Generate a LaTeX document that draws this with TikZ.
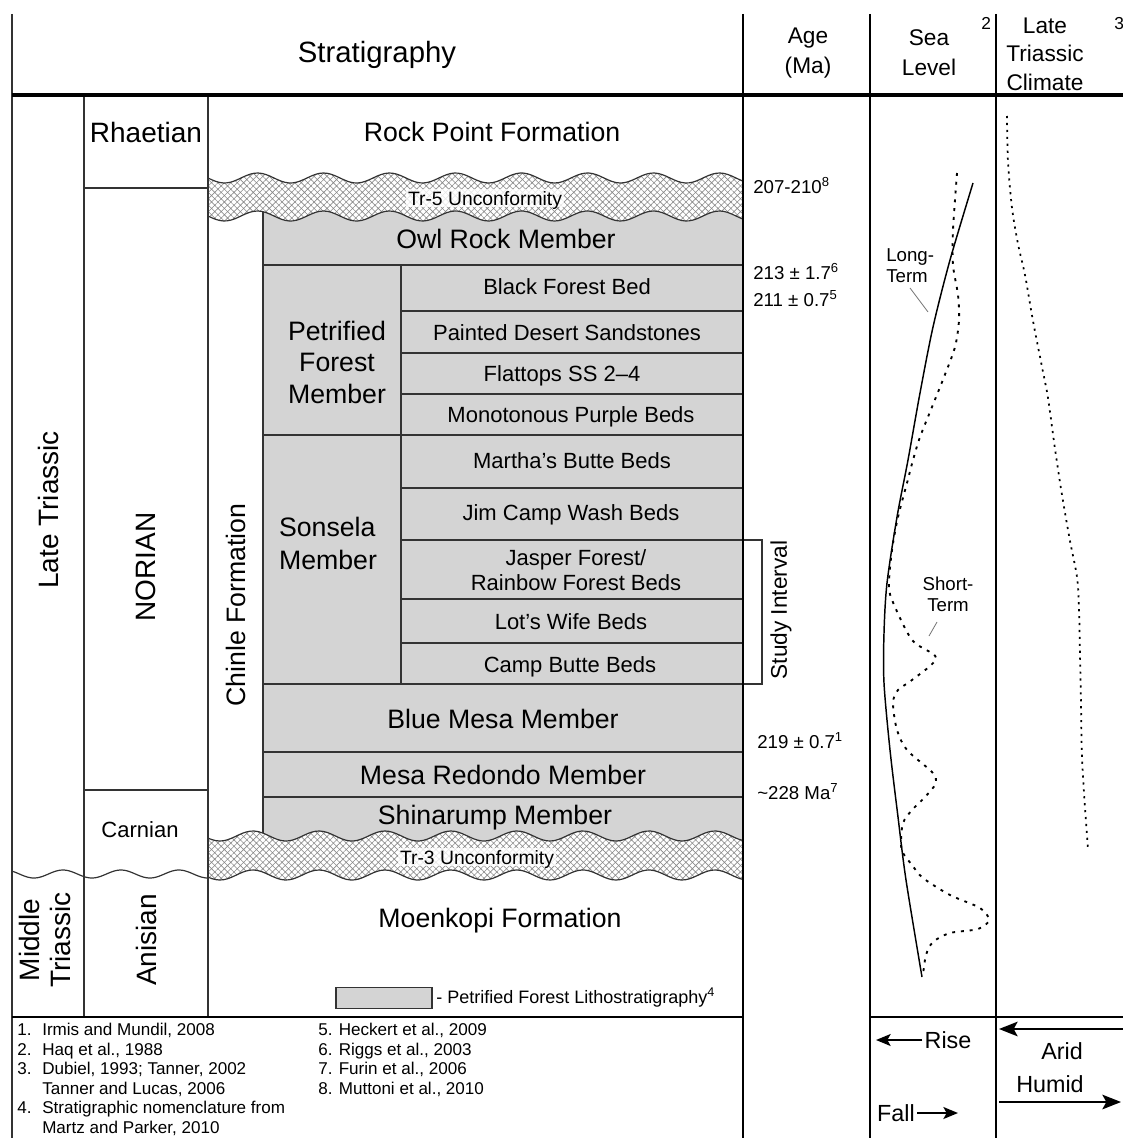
\documentclass[tikz,border=0pt]{standalone}
\usepackage{fontspec}
\setmainfont{Liberation Sans}
\usetikzlibrary{patterns.meta,arrows.meta}
\definecolor{lith}{HTML}{D4D4D4}
\definecolor{ln}{HTML}{333333}
\definecolor{hatchc}{HTML}{8A8A8A}
\begin{document}
\begin{tikzpicture}[x=0.75pt,y=-0.75pt,
 tl/.style={draw=ln,line width=0.9pt},
 kl/.style={draw=black,line width=2.2pt},
 big/.style={font=\fontsize{20}{24}\selectfont,text depth=0pt,inner sep=0pt,align=center},
 bed/.style={font=\fontsize{16.5}{19}\selectfont,text depth=0pt,inner sep=0pt,align=center},
 hdr/.style={font=\fontsize{17}{22.5}\selectfont,align=center,inner sep=0pt},
 agel/.style={font=\fontsize{14}{16}\selectfont,anchor=base west,inner sep=0pt},
 supl/.style={font=\fontsize{13}{15}\selectfont,anchor=base west,inner sep=0pt},
 note/.style={font=\fontsize{12.8}{15}\selectfont,anchor=base west,inner sep=0pt},
 lbl/.style={font=\fontsize{14}{16}\selectfont,inner sep=0pt},
 arr/.style={font=\fontsize{17.5}{20}\selectfont,inner sep=1.5pt,text depth=0pt},
 crv/.style={line width=1.4pt,dash pattern=on 2.2pt off 4.4pt},
 cli/.style={line width=1.3pt,dash pattern=on 1.6pt off 3.6pt},
 unc/.style={pattern={Hatch[angle=45,distance=3.4pt,line width=0.45pt]},pattern color=hatchc},
 unctxt/.style={font=\fontsize{14.5}{16}\selectfont,fill=white,fill opacity=0.8,text opacity=1,inner sep=1.5pt,text depth=0pt},
 wv/.style={draw=ln,line width=0.9pt},
 lead/.style={draw=black!55,line width=0.6pt},
 ]
\useasboundingbox (0,0) rectangle (1123,1138);

% ---------- grey lithostratigraphy block ----------
\fill[lith] (263,205) rectangle (743,845);
% member and bed boundaries
\draw[tl] (263,265) -- (743,265);
\draw[tl] (401,311) -- (743,311);
\draw[tl] (401,353) -- (743,353);
\draw[tl] (401,394) -- (743,394);
\draw[tl] (263,435) -- (743,435);
\draw[tl] (401,488) -- (743,488);
\draw[tl] (401,540) -- (743,540);
\draw[tl] (401,599) -- (743,599);
\draw[tl] (401,643) -- (743,643);
\draw[tl] (263,684) -- (743,684);
\draw[tl] (263,752) -- (743,752);
\draw[tl] (263,797) -- (743,797);
\draw[tl] (401,265) -- (401,684);
\draw[tl] (263,205) -- (263,845);

% stage boundaries
\draw[tl] (84,188) -- (208,188);
\draw[tl] (84,790) -- (208,790);

% ---------- unconformities ----------
\path[fill=white,postaction={unc}]
  plot[domain=208:743,samples=140] (\x,{178+5*sin(((\x-208)/66)*360)})
  -- plot[domain=743:208,samples=140] (\x,{216+5*sin(((\x-208)/66)*360)}) -- cycle;
\draw[wv] plot[domain=208:743,samples=140] (\x,{178+5*sin(((\x-208)/66)*360)});
\draw[wv] plot[domain=208:743,samples=140] (\x,{216+5*sin(((\x-208)/66)*360)});

\path[fill=white,postaction={unc}]
  plot[domain=208:743,samples=140] (\x,{836+5*sin(((\x-208)/66)*360+25)})
  -- plot[domain=743:208,samples=140] (\x,{875+5*sin(((\x-208)/66)*360+25)}) -- cycle;
\draw[wv] plot[domain=208:743,samples=140] (\x,{836+5*sin(((\x-208)/66)*360+25)});
\draw[wv] plot[domain=208:743,samples=140] (\x,{875+5*sin(((\x-208)/66)*360+25)});

% Late/Middle Triassic boundary
\draw[wv] plot[domain=12:208,samples=90] (\x,{874+4*sin(((\x-12)/58)*360-46)});

% column lines
\draw[tl] (12,14) -- (12,1138);
\draw[tl] (84,95) -- (84,1017);
\draw[tl] (208,95) -- (208,1017);

% study interval bracket
\draw[tl] (743,540) -- (762,540) -- (762,684) -- (743,684);

% ---------- heavy frame lines ----------
\draw[kl] (743,14) -- (743,1138);
\draw[kl] (870,14) -- (870,1138);
\draw[kl] (996,14) -- (996,1138);
\draw[draw=black,line width=3pt] (12,95) -- (1123,95);
\draw[draw=black,line width=1.8pt] (12,1017) -- (743,1017);
\draw[draw=black,line width=1.5pt] (870,1017) -- (1123,1017);

% ---------- header ----------
\node[font=\fontsize{22}{26}\selectfont,inner sep=0pt] (strat) at (377,55) {Stratigraphy};
\node[hdr] (agehd) at (808,53) {Age\\(Ma)};
\node[hdr] (seahd) at (929,53) {Sea\\Level};
\node[supl] (seasup) at (981,30) {2};
\node[hdr,font=\fontsize{17}{21.4}\selectfont] (clihd) at (1045,54) {Late\\Triassic\\Climate};
\node[supl] (clisup) at (1114,30) {3};

% ---------- chronostratigraphy ----------
\node[big,rotate=90,font=\fontsize{21}{24}\selectfont] (latetri) at (48,510) {Late Triassic};
\node[big,rotate=90,font=\fontsize{21}{23}\selectfont] (midtri) at (45,940) {Middle\\Triassic};
\node[big,font=\fontsize{21}{24}\selectfont] (rhaet) at (146,132) {Rhaetian};
\node[big,rotate=90,font=\fontsize{21}{24}\selectfont] (norian) at (146,567) {NORIAN};
\node[big,font=\fontsize{16.5}{19}\selectfont] (carn) at (140,830) {Carnian};
\node[big,rotate=90,font=\fontsize{21}{24}\selectfont] (anis) at (146,940) {Anisian};
\node[big,rotate=90] (chinle) at (236,605) {Chinle Formation};

% ---------- lithostratigraphy ----------
\node[big] (rockpt) at (492,132) {Rock Point Formation};
\node[unctxt] (tr5) at (485,198) {Tr-5 Unconformity};
\node[big] (owl) at (506,239) {Owl Rock Member};
\node[big,font=\fontsize{20}{23.6}\selectfont] (pfm) at (337,362) {Petrified\\Forest\\Member};
\node[big,font=\fontsize{20}{24.5}\selectfont,align=left] (sons) at (328,543) {Sonsela\\Member};
\node[bed] (bfb) at (567,287) {Black Forest Bed};
\node[bed] (pds) at (567,333) {Painted Desert Sandstones};
\node[bed] (flat) at (562,374) {Flattops SS 2--4};
\node[bed] (mpb) at (571,415) {Monotonous Purple Beds};
\node[bed] (mbb) at (572,461) {Martha’s Butte Beds};
\node[bed] (jcw) at (571,513) {Jim Camp Wash Beds};
\node[bed,font=\fontsize{16.5}{18.7}\selectfont] (jrf) at (576,570) {Jasper Forest/\\Rainbow Forest Beds};
\node[bed] (lwb) at (571,622) {Lot’s Wife Beds};
\node[bed] (cbb) at (570,665) {Camp Butte Beds};
\node[big] (blue) at (503,719) {Blue Mesa Member};
\node[big] (mesa) at (503,775) {Mesa Redondo Member};
\node[big] (shin) at (495,815) {Shinarump Member};
\node[unctxt] (tr3) at (477,857) {Tr-3 Unconformity};
\node[big] (moen) at (500,918) {Moenkopi Formation};

% legend
\node[draw=ln,line width=1pt,fill=lith,minimum width=72pt,minimum height=16pt,inner sep=0pt] (legbox) at (384,998) {};
\node[font=\fontsize{13.5}{16}\selectfont,anchor=west,inner sep=0pt] (legtxt) at (436,998) {- Petrified Forest Lithostratigraphy\textsuperscript{4}};

% ---------- ages ----------
\node[agel] (a1) at (753,193) {207-210\textsuperscript{8}};
\node[agel] (a2) at (753,279) {213 ± 1.7\textsuperscript{6}};
\node[agel] (a3) at (753,306) {211 ± 0.7\textsuperscript{5}};
\node[agel] (a4) at (757,748) {219 ± 0.7\textsuperscript{1}};
\node[agel] (a5) at (757,799) {\textasciitilde228 Ma\textsuperscript{7}};
\node[rotate=90,font=\fontsize{17}{20}\selectfont,inner sep=0pt] (study) at (781,610) {Study Interval};

% ---------- sea level ----------
\draw[line width=1.1pt] plot[smooth] coordinates {(973,183) (950,260) (933,327) (920,393) (908,460) (897,517) (887,583) (884,633) (884,683) (890,750) (898,817) (906,880) (922,977)};
\draw[crv] plot[smooth,tension=0.5] coordinates {(957,173) (953,230) (953,265) (958,295) (959,320) (955,347) (944,377) (932,407) (920,437) (913,460) (907,483) (898,517) (892,550) (889,583) (892,600) (912,640) (936,658) (912,680) (898,690) (893,703) (897,730) (907,750) (932,772) (936,783) (925,797) (912,810) (903,823) (901,843) (903,853) (912,865) (923,878) (950,895) (980,908) (989,920) (978,929) (950,933) (933,942) (926,955) (923,975)};
\node[lbl,align=left,anchor=west] (lt) at (886,266) {Long-\\Term};
\coordinate (lta) at (910,288);
\coordinate (ltb) at (928,312);
\draw[lead] (lta) -- (ltb);
\node[lbl,align=center] (st) at (948,594) {Short-\\Term};
\coordinate (sta) at (937,622);
\coordinate (stb) at (929,636);
\draw[lead] (sta) -- (stb);

% ---------- climate ----------
\draw[cli] plot[smooth] coordinates {(1007,116) (1008,162) (1012,208) (1018,244) (1025,275) (1033,321) (1042,367) (1048,398) (1055,449) (1062,495) (1070,541) (1077,577) (1079,608) (1080,654) (1081,705) (1082,757) (1085,808) (1088,849)};

% ---------- direction keys ----------
\node[arr] (rise) at (948,1040) {Rise};
\coordinate (risetip) at (876,1040);
\draw[line width=1.2pt,-{Stealth[length=11pt,width=9pt,inset=2.5pt]}] (rise.west) -- (risetip);
\node[arr] (fall) at (896,1113) {Fall};
\coordinate (falltip) at (958,1113);
\draw[line width=1.2pt,-{Stealth[length=11pt,width=9pt,inset=2.5pt]}] (fall.east) -- (falltip);
\node[arr] (arid) at (1062,1051) {Arid};
\coordinate (aridR) at (1123,1029);
\coordinate (aridL) at (999,1029);
\draw[line width=1.2pt,-{Stealth[length=14pt,width=11pt,inset=3pt]}] (aridR) -- (aridL);
\node[arr] (humid) at (1050,1084) {Humid};
\coordinate (humidL) at (999,1102);
\coordinate (humidR) at (1121,1102);
\draw[line width=1.2pt,-{Stealth[length=14pt,width=11pt,inset=3pt]}] (humidL) -- (humidR);

% ---------- footnotes ----------
\node[note] (f1n) at (17,1035) {1.};
\node[note] (f1) at (42,1035) {Irmis and Mundil, 2008};
\node[note] (f2n) at (17,1055) {2.};
\node[note] (f2) at (42,1055) {Haq et al., 1988};
\node[note] (f3n) at (17,1074) {3.};
\node[note] (f3) at (42,1074) {Dubiel, 1993; Tanner, 2002};
\node[note] (f3b) at (42,1094) {Tanner and Lucas, 2006};
\node[note] (f4n) at (17,1113) {4.};
\node[note] (f4) at (42,1113) {Stratigraphic nomenclature from};
\node[note] (f4b) at (42,1133) {Martz and Parker, 2010};
\node[note] (f5) at (318,1035) {5. Heckert et al., 2009};
\node[note] (f6) at (318,1055) {6. Riggs et al., 2003};
\node[note] (f7) at (318,1074) {7. Furin et al., 2006};
\node[note] (f8) at (318,1094) {8. Muttoni et al., 2010};
\end{tikzpicture}
\end{document}
